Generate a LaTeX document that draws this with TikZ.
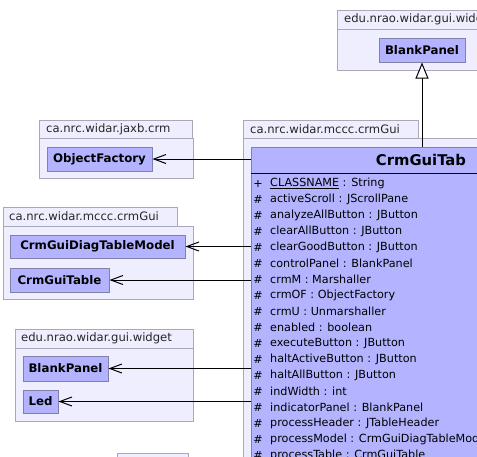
\documentclass[tikz,border=0pt]{standalone}
\usepackage{fontspec}
\setmainfont{DejaVu Sans}
\usetikzlibrary{arrows.meta}
\definecolor{pkgfill}{RGB}{238,238,255}
\definecolor{pkgline}{RGB}{168,168,184}
\definecolor{clsfill}{RGB}{179,179,255}
\definecolor{clsline}{RGB}{128,128,168}
\tikzset{
  pkgbox/.style={draw=pkgline, fill=pkgfill, line width=1pt, inner sep=0pt, anchor=north west},
  pkgtext/.style={font=\fontsize{11.6}{13}\selectfont, inner sep=0pt, anchor=west, text=black!85},
  clsbox/.style={draw=clsline, fill=clsfill, line width=1pt, inner sep=0pt, font=\bfseries\fontsize{11.8}{13}\selectfont},
  attr/.style={font=\fontsize{11.2}{13}\selectfont, inner sep=0pt, anchor=west},
  vis/.style={font=\fontsize{11.2}{13}\selectfont, inner sep=0pt},
  dep/.style={line width=1pt, -{Straight Barb[length=12pt,width=9pt]}},
  inh/.style={line width=1pt, -{Triangle[open,length=16pt,width=13pt,fill=white]}}
}
\begin{document}
\begin{tikzpicture}[x=1pt,y=-1pt]
\useasboundingbox (0,0) rectangle (477,456);
\clip (0,0) rectangle (477,456);
\fill[white] (0,0) rectangle (477,456);

% package A (top right)
\node[pkgbox, minimum width=190pt, minimum height=41pt] (pA) at (337,29) {};
\node[pkgbox, minimum width=172pt, minimum height=19pt] (pAtab) at (337,10) {};
\node[pkgtext] (pAtxt) at (344,19.5) {edu.nrao.widar.gui.widget};
\node[clsbox, minimum width=86pt, minimum height=24pt] (bpA) at (422,50) {BlankPanel};

% package B
\node[pkgbox, minimum width=154pt, minimum height=40pt] (pB) at (39,138) {};
\node[pkgbox, minimum width=153pt, minimum height=18pt] (pBtab) at (39,120) {};
\node[pkgtext] (pBtxt) at (46,129) {ca.nrc.widar.jaxb.crm};
\node[clsbox, minimum width=105pt, minimum height=24pt] (of) at (99.5,159) {ObjectFactory};

% package C
\node[pkgbox, minimum width=190pt, minimum height=73pt] (pC) at (3,226) {};
\node[pkgbox, minimum width=174pt, minimum height=19pt] (pCtab) at (3,207) {};
\node[pkgtext] (pCtxt) at (9,216.5) {ca.nrc.widar.mccc.crmGui};
\node[clsbox, minimum width=175pt, minimum height=23pt] (dtm) at (97.5,246.5) {CrmGuiDiagTableModel};
\node[clsbox, minimum width=99pt, minimum height=24pt] (cgt) at (59.5,280) {CrmGuiTable};

% package D
\node[pkgbox, minimum width=178pt, minimum height=73pt] (pD) at (15,348) {};
\node[pkgbox, minimum width=178pt, minimum height=19pt] (pDtab) at (15,329) {};
\node[pkgtext] (pDtxt) at (21,338.5) {edu.nrao.widar.gui.widget};
\node[clsbox, minimum width=85pt, minimum height=25pt] (bpD) at (65.5,368.5) {BlankPanel};
\node[clsbox, minimum width=35pt, minimum height=23pt] (led) at (40.5,401.5) {Led};

% package F (bottom, cut off)
\node[pkgbox, minimum width=71pt, minimum height=22pt] (pFtab) at (117,453) {};

% package E
\node[pkgbox, minimum width=380pt, minimum height=400pt] (pE) at (243,138) {};
\node[pkgbox, minimum width=175pt, minimum height=18pt] (pEtab) at (243,120) {};
\node[pkgtext] (pEtxt) at (250,129) {ca.nrc.widar.mccc.crmGui};

% class CrmGuiTab
\node[clsbox, anchor=north west, minimum width=340pt, minimum height=400pt] (tab) at (251,147) {};
\node[font=\bfseries\fontsize{14.8}{17}\selectfont, inner sep=0pt] (tabname) at (421,160) {CrmGuiTab};
\draw[line width=1pt, black] (251,173) -- (600,173);

\foreach \i/\v/\t in {0/+/{\underline{CLASSNAME} : String},
  1/\#/{activeScroll : JScrollPane},
  2/\#/{analyzeAllButton : JButton},
  3/\#/{clearAllButton : JButton},
  4/\#/{clearGoodButton : JButton},
  5/\#/{controlPanel : BlankPanel},
  6/\#/{crmM : Marshaller},
  7/\#/{crmOF : ObjectFactory},
  8/\#/{crmU : Unmarshaller},
  9/\#/{enabled : boolean},
  10/\#/{executeButton : JButton},
  11/\#/{haltActiveButton : JButton},
  12/\#/{haltAllButton : JButton},
  13/\#/{indWidth : int},
  14/\#/{indicatorPanel : BlankPanel},
  15/\#/{processHeader : JTableHeader},
  16/\#/{processModel : CrmGuiDiagTableModel},
  17/\#/{processTable : CrmGuiTable}}{
  \node[vis] (v\i) at (258,183.5+16*\i) {\v};
  \node[attr] (a\i) at (270,183.5+16*\i) {\t};
}

% connectors
\draw[dep] (tab.west |- of.east) -- (of.east);
\draw[dep] (tab.west |- dtm.east) -- (dtm.east);
\draw[dep] (tab.west |- cgt.east) -- (cgt.east);
\draw[dep] (tab.west |- bpD.east) -- (bpD.east);
\draw[dep] (tab.west |- led.east) -- (led.east);
\draw[inh] (tab.north -| bpA.south) -- (bpA.south);
\end{tikzpicture}
\end{document}
